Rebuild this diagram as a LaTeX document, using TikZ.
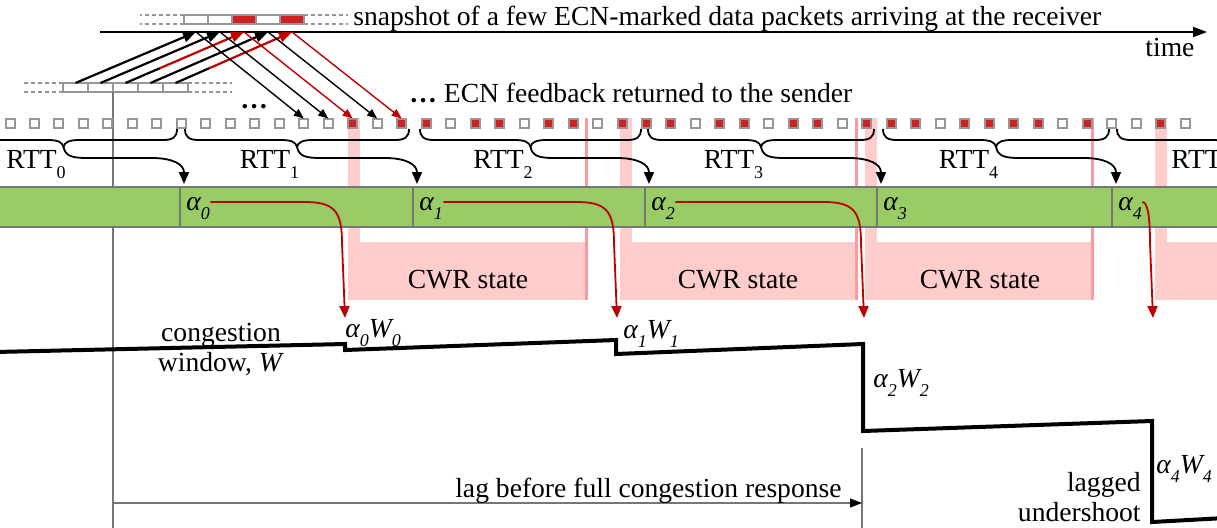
\documentclass[tikz,border=0pt]{standalone}
\usepackage{fontspec}
\setmainfont{Liberation Serif}
\usetikzlibrary{arrows.meta,calc}

\definecolor{bargreen}{RGB}{153,204,102}
\definecolor{bargray}{RGB}{118,118,118}
\definecolor{pktgray}{RGB}{150,150,150}
\definecolor{ecnred}{RGB}{204,34,34}
\definecolor{arrred}{RGB}{192,0,0}
\definecolor{cwrpink}{RGB}{255,204,204}
\definecolor{cwrline}{RGB}{255,153,153}

\newcommand{\dropsub}[1]{\raisebox{-4.5pt}{\fontsize{9}{9}\selectfont #1}}
\newcommand{\rttsub}[1]{\rlap{\raisebox{-5pt}{\fontsize{9}{9}\selectfont #1}}}

\tikzset{
  txt/.style={inner sep=0pt, font=\fontsize{13.8}{15}\selectfont},
  fbpkt/.style={draw=pktgray, line width=1pt, minimum size=4.5pt, inner sep=0pt, outer sep=0pt, fill=white},
  fbw/.style={fbpkt},
  fbr/.style={fbpkt, fill=ecnred},
  datapkt/.style={draw=pktgray, line width=1pt, minimum height=4.5pt, inner sep=0pt, outer sep=0pt, fill=white},
  rcvw/.style={datapkt, minimum width=12pt},
  rcvr/.style={rcvw, fill=ecnred},
  sndpkt/.style={datapkt, minimum width=12.5pt},
  dashext/.style={pktgray, line width=1pt, dash pattern=on 2pt off 1.5pt},
  dataline/.style={line width=1.1pt},
  datatip/.style={-{Triangle[length=6.5pt,width=5pt]}},
  fbline/.style={line width=0.7pt, -{Triangle[length=5pt,width=4pt]}},
  brace/.style={line width=0.9pt},
  rttarr/.style={line width=0.9pt, -{Triangle[length=6pt,width=5pt]}},
  alphaarr/.style={arrred, line width=0.9pt, -{Triangle[length=6pt,width=5pt]}},
  thinline/.style={bargray, line width=0.6pt},
  wline/.style={line width=2pt},
}

\begin{document}
\begin{tikzpicture}[x=0.5pt,y=-0.5pt]
  \useasboundingbox (0,0) rectangle (1217,527);
  \clip (0,0) rectangle (1217,527);
  % CWR regions
  \foreach \l/\r in {348/588, 620/858, 865/1094, 1155/1240} {
    \fill[cwrpink] (\l,118) rectangle (\l+12,300);
    \fill[cwrpink] (\l,242) rectangle (\r,300);
    \draw[cwrline, line width=1.5pt] (\r-1.5,118) -- (\r-1.5,300);
  }
  \node[txt, anchor=base] (cwr1) at (468,288) {CWR state};
  \node[txt, anchor=base] (cwr2) at (738,288) {CWR state};
  \node[txt, anchor=base] (cwr3) at (980,288) {CWR state};
  % sender packets
  \foreach \i in {1,...,5}
    \node[sndpkt] (s\i) at ({50.5+25*\i},87.5) {};
  \draw[dashext] (s1.north west) -- ++(-39,0) (s1.south west) -- ++(-39,0)
                 (s5.north east) -- ++(44,0) (s5.south east) -- ++(44,0);
  % reference lines
  \draw[thinline] (s2.south east) -- ++(0,440);
  \coordinate (lagL) at (113,503);
  \coordinate (lagR) at (862,503);
  \draw[thinline] (862,448) -- (862,530);
  % green bar
  \draw[bargray, line width=1pt, fill=bargreen] (-5,187) rectangle (1225,227);
  \foreach \d [count=\k from 0] in {180,413,645,877,1112} {
    \draw[bargray, line width=1pt] (\d,187) -- (\d,227);
    \node[txt, anchor=base west] (a\k) at (\d+6,210) {\textit{α\dropsub{\k}}};
  }
  % receiver snapshot
  \coordinate (tl) at (100,32);
  \coordinate (tr) at (1207,32);
  \draw[line width=1pt, -{Triangle[length=7pt,width=5pt]}] (tl) -- (tr);
  \node[txt, anchor=base west] (snap) at (353,25) {snapshot of a few ECN-marked data packets arriving at the receiver};
  \node[txt, anchor=base west] (time) at (1145,56) {time};
  \foreach \c [count=\i] in {w,w,r,w,r}
    \node[rcv\c] (r\i) at ({172+24*\i},19.5) {};
  \draw[dashext] (r1.north west) -- ++(-44,0) (r1.south west) -- ++(-44,0)
                 (r5.north east) -- ++(44,0) (r5.south east) -- ++(44,0);
  % feedback packets
  \foreach \c [count=\i from 0] in {w,w,w,w,w,w,w,w,w,w,w,w,w,w,r,w,r,r,w,r,r,w,r,r,w,r,r,r,w,r,r,w,r,r,w,r,r,r,w,r,r,r,r,w,r,w,w,r,w}
    \node[fb\c] (fb\i) at ({10+24.48*\i},123) {};
  \node[txt, anchor=base west] (dots) at (240,108) {\textbf{\ldots}};
  \node[txt, anchor=base west] (fbtext) at (409,102) {\textbf{\ldots} ECN feedback returned to the sender};
  % data packets sent
  \foreach \i in {1,2,4}
    \draw[dataline, datatip] (s\i.north) -- (r\i.south |- tl);
  \foreach \i in {3,5} {
    \draw[dataline] (s\i.north) -- ($(s\i.north)!0.29!(r\i.south |- tl)$);
    \draw[dataline, datatip, arrred] ($(s\i.north)!0.29!(r\i.south |- tl)$) -- (r\i.south |- tl);
  }
  % feedback
  \foreach \i/\c in {1/black,2/black,3/arrred,4/black,5/arrred} {
    \pgfmathtruncatemacro\j{11+\i}
    \draw[fbline, \c] (r\i.south |- tl) -- (fb\j.north);
  }
  % RTT braces
  \foreach \xl/\xr/\xa [count=\k from 0] in {-50/177/184, 185/409/417, 420/641/649, 648/874/881, 883/1109/1116, 1117/1340/1350} {
    \pgfmathsetmacro\xm{(\xl+\xr)/2}
    \coordinate (tip\k) at (\xm,147);
    \coordinate (div\k) at (\xa,184);
    \draw[brace] (\xl,129) .. controls (\xl,137) and (\xl+4,140) .. (\xl+14,140) -- (\xm-16,140)
      .. controls (\xm-6,140) and (\xm-1,142) .. (tip\k);
    \draw[brace] (\xr,129) .. controls (\xr,137) and (\xr-4,140) .. (\xr-14,140) -- (\xm+16,140)
      .. controls (\xm+6,140) and (\xm+1,142) .. (tip\k);
    \draw[rttarr] (tip\k) .. controls ($(tip\k)+(2,9)$) and ($(tip\k)+(8,11)$) .. ($(tip\k)+(24,11)$)
      -- ($(div\k)+(-32,-26)$) .. controls ($(div\k)+(-12,-26)$) and ($(div\k)+(0,-20)$) .. (div\k);
    \node[txt, anchor=base] (rtt\k) at (\xm-32,168) {RTT\rttsub{\k}};
  }
  % alpha to window
  \coordinate (e0) at (345,318);
  \coordinate (e1) at (617,318);
  \coordinate (e2) at (864,318);
  \coordinate (e4) at (1153,318);
  \foreach \k in {0,1,2}
    \draw[alphaarr] ([yshift=3pt]a\k.east) -- ($(e\k)+(-40,-116)$) .. controls ($(e\k)+(-10,-116)$) and ($(e\k)+(-3,-106)$) .. ($(e\k)+(-3,-75)$) -- (e\k);
  \draw[alphaarr] ([yshift=3pt]a4.east) .. controls ($(e4)+(-6,-116)$) and ($(e4)+(-3,-105)$) .. ($(e4)+(-3,-75)$) -- (e4);
  % congestion window
  \draw[wline] (-5,352) -- (345,344) -- (345,350) -- (616,340) -- (616,354) -- (863,344)
    -- (863,431) -- (1152,421) -- (1152,522) -- (1225,518);
  \node[txt, align=center] (cwnd) at (221,349) {congestion\\window, \textit{W}};
  \node[txt, anchor=base west] (w0) at (345,337) {\textit{α\dropsub{0}W\dropsub{0}}};
  \node[txt, anchor=base west] (w1) at (623,338) {\textit{α\dropsub{1}W\dropsub{1}}};
  \node[txt, anchor=base west] (w2) at (873,387) {\textit{α\dropsub{2}W\dropsub{2}}};
  \node[txt, anchor=base west] (w4) at (1156,473) {\textit{α\dropsub{4}W\dropsub{4}}};
  \node[txt, align=right, anchor=east] (under) at (1141,497) {lagged\\undershoot};
  % lag
  \draw[thinline, -{Triangle[length=6pt,width=4.5pt,black]}] (lagL) -- (lagR);
  \node[txt, anchor=base east] (lagtext) at (842,497) {lag before full congestion response};
\end{tikzpicture}
\end{document}
